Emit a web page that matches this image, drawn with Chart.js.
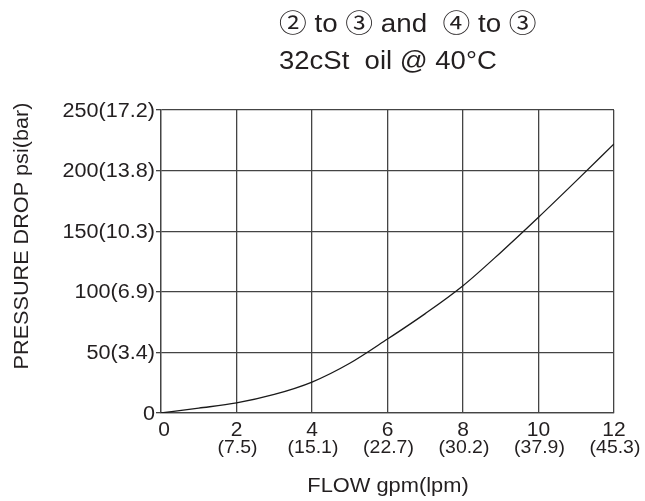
<!DOCTYPE html>
<html>
<head>
<meta charset="utf-8">
<script src="https://cdn.jsdelivr.net/npm/chart.js@4.4.1/dist/chart.umd.min.js"></script>
<style>
    html, body { margin: 0; padding: 0; background: #fff; }
    #wrap { width: 645px; height: 501px; }
</style>
</head>
<body>
<div id="wrap"><canvas id="chart" width="645" height="501"></canvas></div>
<script>
// data
const flowGpm = [0, 1, 2, 3, 4, 5, 6, 7, 8, 9, 10, 11, 12];
const dropPsi = [0, 4, 8.3, 15.3, 25.5, 41, 61, 82, 105, 132.5, 161.5, 191.5, 222];

// tick labels
const xTicks = [0, 2, 4, 6, 8, 10, 12];
const xTicksLpm = ["", "(7.5)", "(15.1)", "(22.7)", "(30.2)", "(37.9)", "(45.3)"];
const yTicks = [0, 50, 100, 150, 200, 250];
const yTicksBar = ["", "(3.4)", "(6.9)", "(10.3)", "(13.8)", "(17.2)"];

const titleLines = ["② to ③ and  ④ to ③", "32cSt  oil @ 40°C"];
const xTitle = "FLOW gpm(lpm)";
const yTitle = "PRESSURE DROP psi(bar)";

const FONT = "'Liberation Sans', Arial, 'Noto Sans CJK JP', 'DejaVu Sans', sans-serif";
const INK = "#231f20";
const GRID = "#444";

// text with a small horizontal stretch, the source art is a bit wide
function txt(ctx, s, x, y, size, align, sx) {
    sx = sx || 1;
    ctx.save();
    ctx.translate(x, y);
    ctx.scale(sx, 1);
    ctx.font = size + "px " + FONT;
    ctx.textAlign = align;
    ctx.fillText(s, 0, 0);
    ctx.restore();
}

// draws the tick labels and titles from the scales
const labelPlugin = {
    id: "labels",
    afterDraw(chart) {
        const ctx = chart.ctx;
        const xs = chart.scales.x;
        const ys = chart.scales.y;
        ctx.save();
        ctx.fillStyle = INK;
        ctx.textBaseline = "middle";

        // y ticks
        yTicks.forEach((v, i) => {
            txt(ctx, v + yTicksBar[i], 155, ys.getPixelForValue(v) + 1, 20, "right", 1.08);
        });

        // x ticks, two lines
        xTicks.forEach((v, i) => {
            let px = xs.getPixelForValue(v);
            if (i === 0) px += 3;
            txt(ctx, String(v), px, 430, 20, "center", 1.05);
            if (xTicksLpm[i]) txt(ctx, xTicksLpm[i], px + 1, 448, 18, "center", 1.08);
        });

        // axis titles
        txt(ctx, xTitle, 388, 486, 21, "center", 1.04);
        ctx.save();
        ctx.translate(22, 236);
        ctx.rotate(-Math.PI / 2);
        txt(ctx, yTitle, 0, 0, 21, "center", 1.03);
        ctx.restore();

        // header
        ctx.textBaseline = "alphabetic";
        txt(ctx, titleLines[0], 279, 32, 25, "left", 1.11);
        txt(ctx, titleLines[1], 279, 69, 25, "left", 1.1);
        ctx.restore();
    }
};

const ctx = document.getElementById("chart").getContext("2d");

new Chart(ctx, {
    type: "scatter",
    data: {
        datasets: [{
            data: flowGpm.map((x, i) => ({ x: x, y: dropPsi[i] })),
            showLine: true,
            borderColor: "#1a1a1a",
            borderWidth: 1.3,
            pointRadius: 0,
            cubicInterpolationMode: "monotone",
            fill: false
        }]
    },
    options: {
        responsive: false,
        animation: false,
        devicePixelRatio: 1,
        layout: { padding: { left: 156, right: 31, top: 110, bottom: 88 } },
        plugins: {
            legend: { display: false },
            tooltip: { enabled: false }
        },
        scales: {
            x: {
                type: "linear",
                min: 0,
                max: 12,
                ticks: { display: false, stepSize: 2 },
                grid: { color: GRID, lineWidth: 1.3, drawTicks: false },
                border: { color: GRID, width: 1.3 }
            },
            y: {
                min: 0,
                max: 250,
                ticks: { display: false, stepSize: 50 },
                grid: { color: GRID, lineWidth: 1.3, drawTicks: true, tickLength: 5 },
                border: { color: GRID, width: 1.3 }
            }
        }
    },
    plugins: [labelPlugin]
});
</script>
</body>
</html>
